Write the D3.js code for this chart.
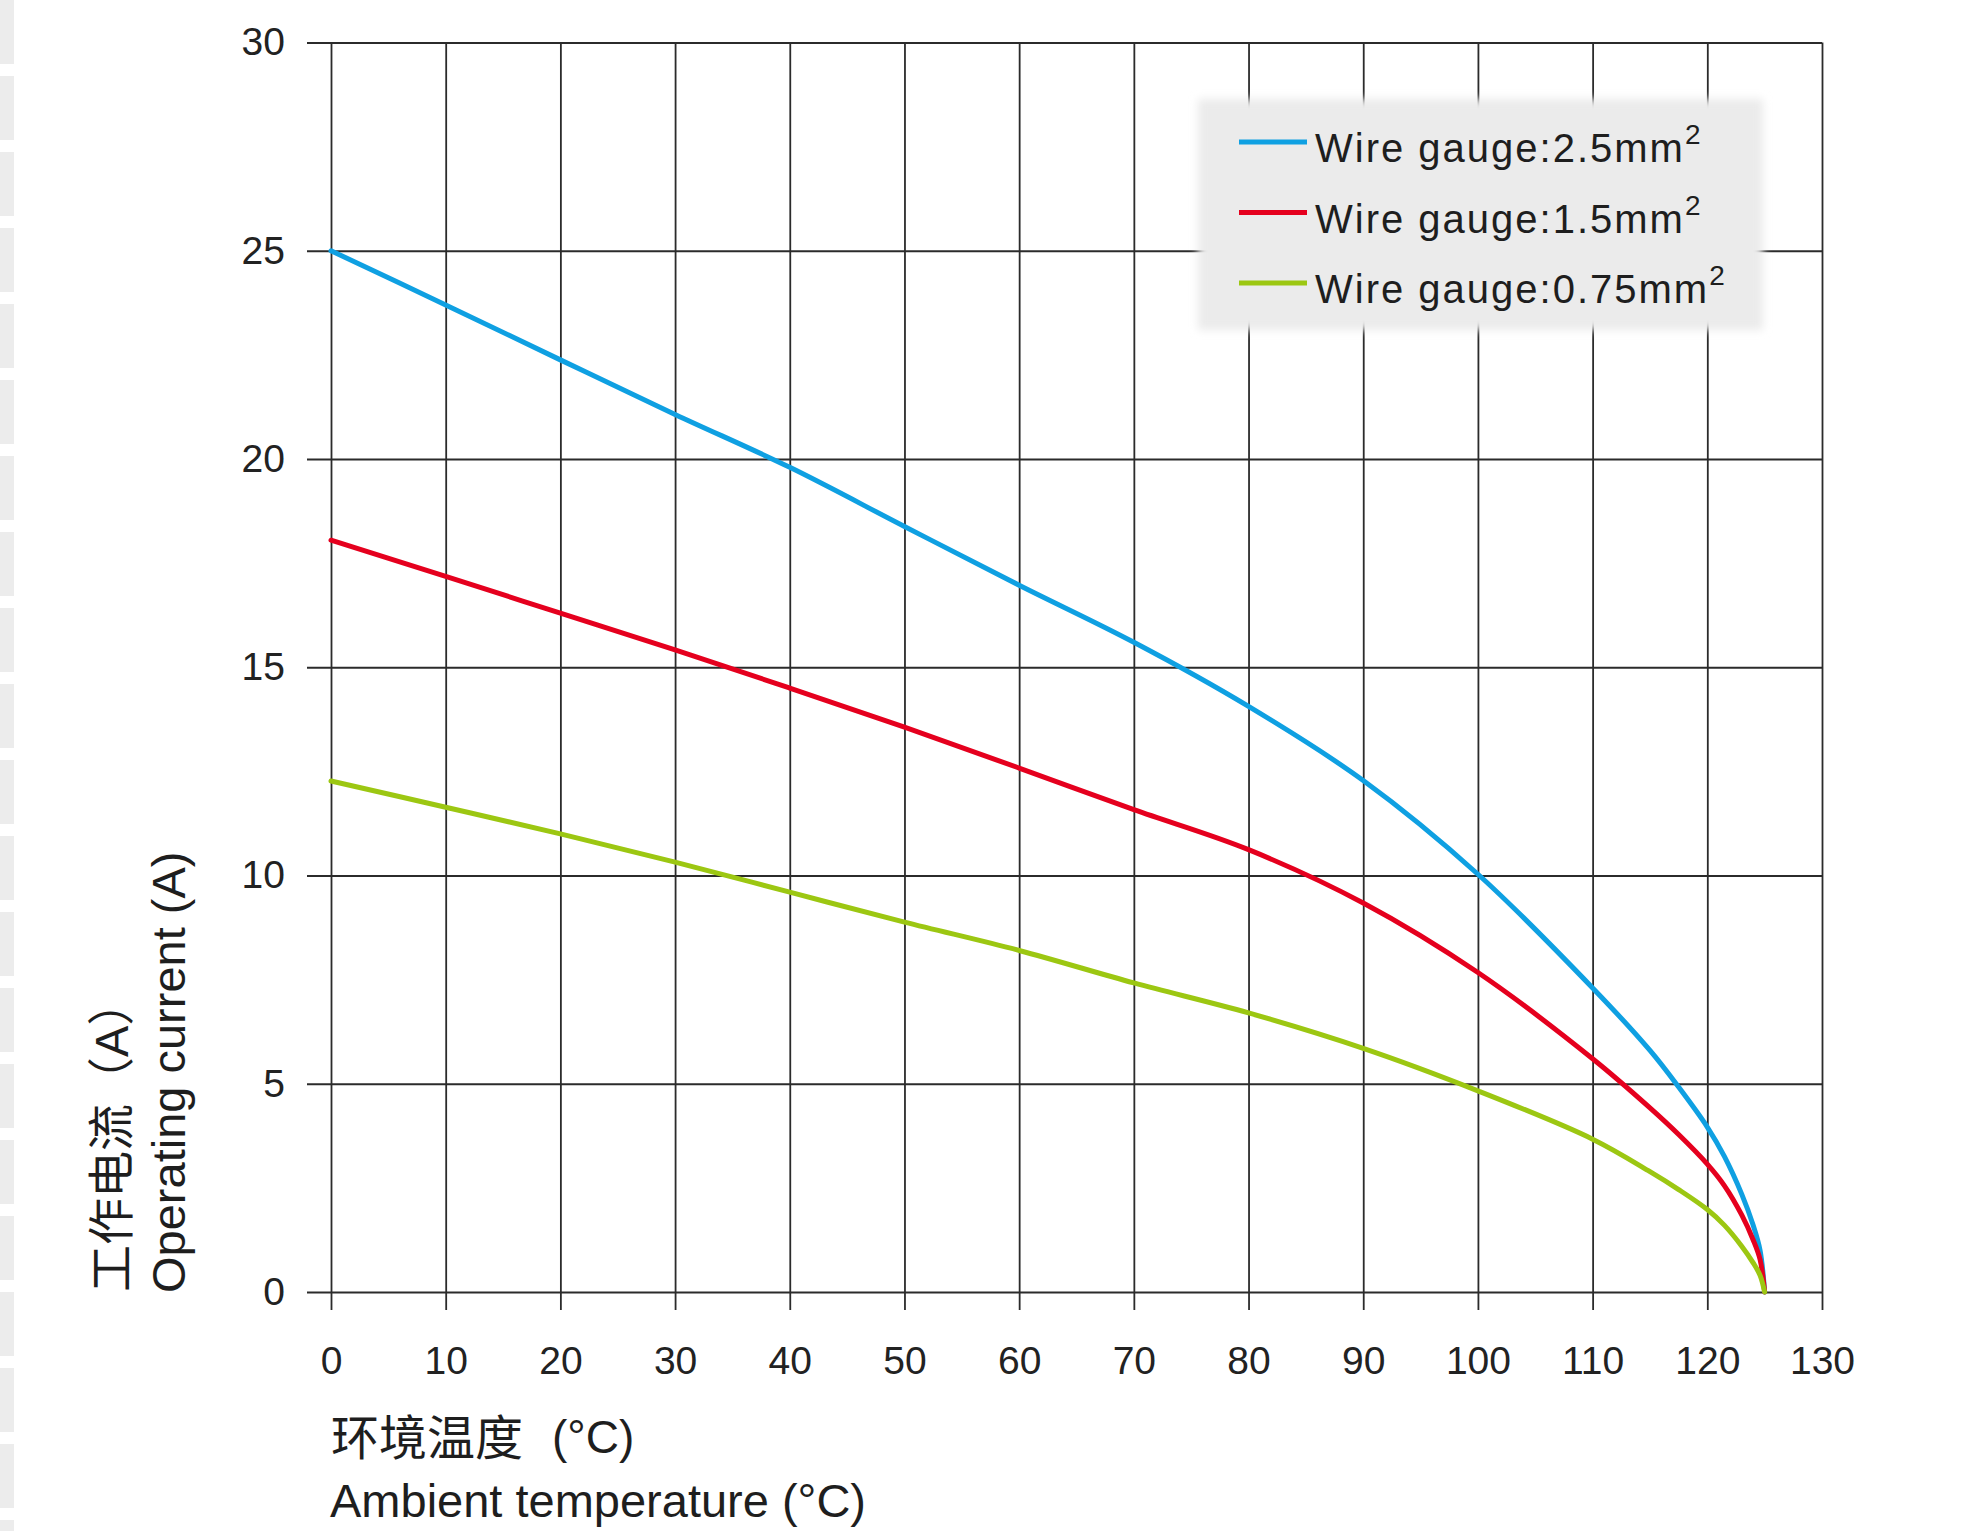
<!DOCTYPE html>
<html>
<head>
<meta charset="utf-8">
<script src="https://cdn.jsdelivr.net/npm/d3@7"></script>
<style>
  html, body { margin: 0; padding: 0; background: #ffffff; }
  svg { display: block; }
  text { font-family: "Liberation Sans", Arial, "Noto Sans CJK SC", sans-serif; }
</style>
</head>
<body>
<svg id="chart" width="1965" height="1531"></svg>
<script>
// ---------- data ----------
const temperatures = [0, 10, 20, 30, 40, 50, 60, 70, 80, 90, 100, 110, 115, 117.5, 120, 121.5, 123, 124, 124.6, 125];
const gauge25  = [25.0, 23.7, 22.38, 21.07, 19.8, 18.38, 16.97, 15.6, 14.06, 12.28, 10.03, 7.3, 5.8, 4.92, 3.96, 3.25, 2.35, 1.6, 1.0, 0];
const gauge15  = [18.05, 17.18, 16.3, 15.42, 14.5, 13.56, 12.58, 11.58, 10.62, 9.34, 7.67, 5.6, 4.42, 3.78, 3.07, 2.55, 1.85, 1.25, 0.78, 0];
const gauge075 = [12.27, 11.64, 11.0, 10.32, 9.6, 8.88, 8.2, 7.42, 6.7, 5.85, 4.83, 3.67, 2.89, 2.46, 1.98, 1.6, 1.1, 0.7, 0.4, 0];

const seriesNames  = ["Wire gauge:2.5mm", "Wire gauge:1.5mm", "Wire gauge:0.75mm"];
const seriesValues = [gauge25, gauge15, gauge075];
const seriesColors = ["#0fa0e2", "#e5001e", "#9cc712"];

const xTicks = [0, 10, 20, 30, 40, 50, 60, 70, 80, 90, 100, 110, 120, 130];
const yTicks = [0, 5, 10, 15, 20, 25, 30];

const xTitleCn = "环境温度";
const xTitleUnit = "(°C)";
const xTitleEn = "Ambient temperature (°C)";
const yTitleCn = "工作电流（A）";
const yTitleEn = "Operating current (A)";

// ---------- layout ----------
const svg = d3.select("#chart");
const x = d3.scaleLinear().domain([0, 130]).range([331, 1822]);
const y = d3.scaleLinear().domain([0, 30]).range([1292, 42.5]);

const gridColor = "#2b2b2b";

// left-edge scan artifact (faint)
svg.append("line")
  .attr("x1", 7).attr("x2", 7).attr("y1", 0).attr("y2", 1531)
  .attr("stroke", "#ececec").attr("stroke-width", 14)
  .attr("stroke-dasharray", "64,12");

// X axis: gridlines from top to below the zero line
const xAxis = d3.axisBottom(x)
  .tickValues(xTicks)
  .tickSize(y(0) - y(30) + 18)
  .tickPadding(36)
  .tickFormat(d3.format("d"));
const gx = svg.append("g").attr("transform", `translate(0,${y(30)})`).call(xAxis);
gx.select(".domain").remove();
gx.selectAll(".tick line").attr("stroke", gridColor).attr("stroke-width", 1.8);
gx.selectAll(".tick text")
  .attr("fill", "#222").attr("font-size", 39)
  .attr("font-family", "Liberation Sans, Arial, sans-serif");

// Y axis: gridlines from left (with tick extension) to the right edge
const yAxis = d3.axisLeft(y)
  .tickValues(yTicks)
  .tickSize(x(130) - x(0) + 24)
  .tickPadding(22)
  .tickFormat(d3.format("d"));
const gy = svg.append("g").attr("transform", `translate(${x(130)},0)`).call(yAxis);
gy.select(".domain").remove();
gy.selectAll(".tick line").attr("stroke", gridColor).attr("stroke-width", 1.8);
gy.selectAll(".tick text")
  .attr("fill", "#222").attr("font-size", 39)
  .attr("font-family", "Liberation Sans, Arial, sans-serif");

// ---------- curves ----------
const line = d3.line()
  .x((d, i) => x(temperatures[i]))
  .y(d => y(d))
  .curve(d3.curveCatmullRom.alpha(0.5));

const curves = svg.append("g");
seriesValues.forEach((vals, k) => {
  curves.append("path")
    .datum(vals)
    .attr("d", line)
    .attr("fill", "none")
    .attr("stroke", seriesColors[k])
    .attr("stroke-width", 5)
    .attr("stroke-linejoin", "round")
    .attr("stroke-linecap", "round");
});

// ---------- legend ----------
const defs = svg.append("defs");
defs.append("filter").attr("id", "soft")
  .attr("x", "-10%").attr("y", "-10%").attr("width", "120%").attr("height", "120%")
  .append("feGaussianBlur").attr("stdDeviation", 4);

const legend = svg.append("g");
legend.append("rect")
  .attr("x", 1198).attr("y", 99).attr("width", 565).attr("height", 231)
  .attr("fill", "#ebebeb").attr("filter", "url(#soft)");

seriesNames.forEach((name, k) => {
  const ly = 142 + k * 70.5;
  legend.append("line")
    .attr("x1", 1239).attr("x2", 1307).attr("y1", ly).attr("y2", ly)
    .attr("stroke", seriesColors[k]).attr("stroke-width", 5);
  const t = legend.append("text")
    .attr("x", 1315).attr("y", ly + 20)
    .attr("fill", "#1e1e1e").attr("font-size", 40)
    .attr("letter-spacing", 2.0);
  t.append("tspan").text(name);
  t.append("tspan").attr("dy", -18).attr("font-size", 28).attr("letter-spacing", 0).text("2");
});

// ---------- axis titles ----------
const xt = svg.append("g");
xt.append("text")
  .attr("x", 331).attr("y", 1455)
  .attr("font-family", "Noto Sans CJK SC, sans-serif")
  .attr("font-size", 48).attr("fill", "#1e1e1e")
  .text(xTitleCn);
xt.append("text")
  .attr("x", 552).attr("y", 1453)
  .attr("font-size", 46).attr("fill", "#1e1e1e")
  .text(xTitleUnit);
xt.append("text")
  .attr("x", 330).attr("y", 1517)
  .attr("font-size", 47).attr("fill", "#1e1e1e")
  .text(xTitleEn);

svg.append("text")
  .attr("transform", "translate(128,1292) rotate(-90)")
  .attr("font-family", "Noto Sans CJK SC, sans-serif")
  .attr("font-size", 47).attr("fill", "#1e1e1e")
  .text(yTitleCn);
svg.append("text")
  .attr("transform", "translate(185,1293) rotate(-90)")
  .attr("font-size", 47).attr("fill", "#1e1e1e")
  .text(yTitleEn);
</script>
</body>
</html>
